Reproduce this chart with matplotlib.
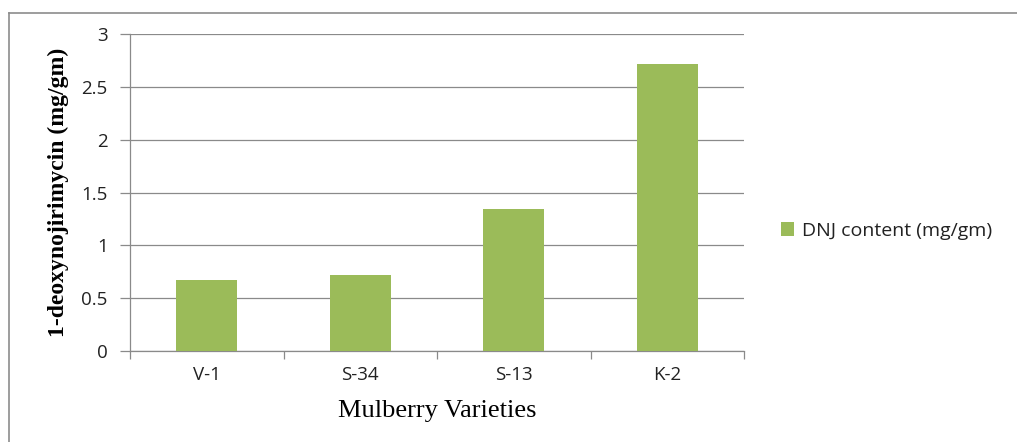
import numpy as np
import matplotlib.pyplot as plt
from matplotlib.lines import Line2D

# DNJ content per mulberry variety
varieties = ['V-1', 'S-34', 'S-13', 'K-2']
dnj_content = [0.67, 0.715, 1.345, 2.715]
y_ticks = [0, 0.5, 1, 1.5, 2, 2.5, 3]
y_tick_labels = ['0', '0.5', '1', '1.5', '2', '2.5', '3']

W, H = 1017, 442
fig = plt.figure(figsize=(W / 100, H / 100), dpi=100)

# chart frame (left and top edges)
grey = '#8c8c8c'
fig.add_artist(Line2D([9 / W, 9 / W], [0, 1 - 13 / H], color=grey, lw=1.2))
fig.add_artist(Line2D([9 / W, 1], [1 - 13 / H, 1 - 13 / H], color=grey, lw=1.2))

ax = fig.add_axes([130 / W, (H - 351) / H, (744 - 130) / W, (351 - 34) / H])

x = np.arange(len(varieties))
ax.bar(x, dnj_content, width=0.4, color='#9bbb59', zorder=3,
       label='DNJ content (mg/gm)')

ax.set_xlim(-0.5, len(varieties) - 0.5)
ax.set_ylim(0, 3)
ax.set_yticks(y_ticks)
ax.set_yticklabels(y_tick_labels)
ax.set_xticks(x)
ax.set_xticklabels(varieties)
ax.set_xticks(np.arange(-0.5, len(varieties)), minor=True)

ax.grid(axis='y', color='#8a8a8a', lw=0.9, zorder=0)
for side in ['top', 'right']:
    ax.spines[side].set_visible(False)
for side in ['left', 'bottom']:
    ax.spines[side].set_color('#8a8a8a')
    ax.spines[side].set_linewidth(0.9)

ax.tick_params(axis='y', length=7, width=0.9, color='#8a8a8a', pad=9,
               labelsize=13.5, labelcolor='#222222')
ax.tick_params(axis='x', which='major', length=0, pad=11,
               labelsize=13.5, labelcolor='#222222')
ax.tick_params(axis='x', which='minor', length=6, width=0.9, color='#8a8a8a')
for lab in ax.get_xticklabels() + ax.get_yticklabels():
    lab.set_family('Open Sans')

ax.set_xlabel('Mulberry Varieties', family='Liberation Serif', fontsize=19,
              labelpad=11)
ax.set_ylabel('1-deoxynojirimycin (mg/gm)', family='Liberation Serif',
              fontweight='bold', fontsize=17, labelpad=9)

leg = fig.legend(loc='center left', bbox_to_anchor=(763 / W, 1 - 231 / H),
                 frameon=False, handlelength=0.7, handleheight=0.7,
                 handletextpad=0.4, prop={'family': 'Open Sans', 'size': 14})
for t in leg.get_texts():
    t.set_color('#222222')

fig.savefig('out.png', dpi=100)
